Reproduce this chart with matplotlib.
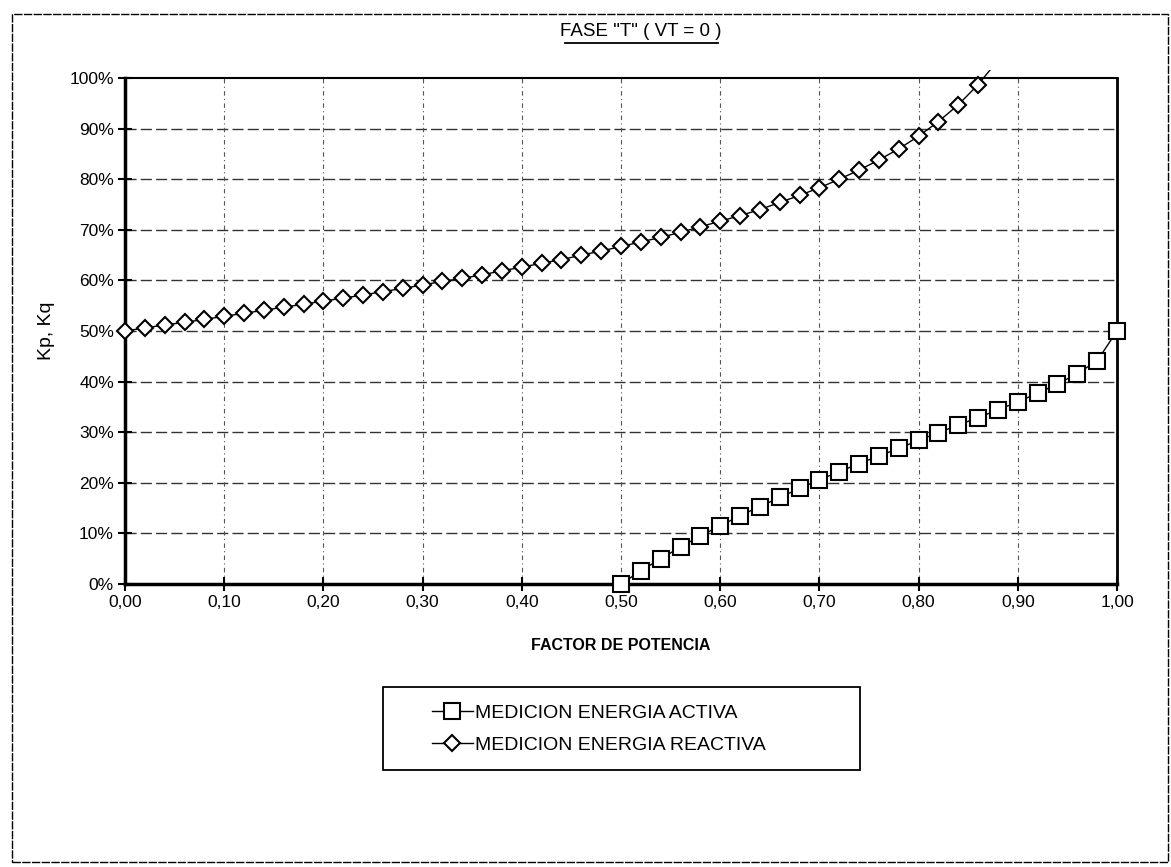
import matplotlib
matplotlib.use("Agg")
import matplotlib.pyplot as plt
from matplotlib.patches import Rectangle

plt.rcParams['font.family'] = ['Liberation Sans', 'DejaVu Sans']

# factor de potencia
fp_reactiva = [0.00, 0.02, 0.04, 0.06, 0.08, 0.10, 0.12, 0.14, 0.16, 0.18,
               0.20, 0.22, 0.24, 0.26, 0.28, 0.30, 0.32, 0.34, 0.36, 0.38,
               0.40, 0.42, 0.44, 0.46, 0.48, 0.50, 0.52, 0.54, 0.56, 0.58,
               0.60, 0.62, 0.64, 0.66, 0.68, 0.70, 0.72, 0.74, 0.76, 0.78,
               0.80, 0.82, 0.84, 0.86, 0.88]
kq = [0.500, 0.506, 0.512, 0.517, 0.523, 0.529, 0.535, 0.541, 0.547, 0.553,
      0.559, 0.565, 0.571, 0.578, 0.584, 0.591, 0.598, 0.604, 0.611, 0.619,
      0.626, 0.634, 0.641, 0.650, 0.658, 0.667, 0.676, 0.685, 0.695, 0.706,
      0.717, 0.728, 0.740, 0.754, 0.768, 0.783, 0.800, 0.818, 0.838, 0.860,
      0.885, 0.914, 0.947, 0.987, 1.035]

fp_activa = [0.50, 0.52, 0.54, 0.56, 0.58, 0.60, 0.62, 0.64, 0.66, 0.68,
             0.70, 0.72, 0.74, 0.76, 0.78, 0.80, 0.82, 0.84, 0.86, 0.88,
             0.90, 0.92, 0.94, 0.96, 0.98, 1.00]
kp = [0.000, 0.026, 0.050, 0.073, 0.095, 0.115, 0.135, 0.153, 0.171, 0.189,
      0.206, 0.222, 0.238, 0.253, 0.268, 0.284, 0.299, 0.314, 0.329, 0.344,
      0.360, 0.377, 0.395, 0.416, 0.441, 0.500]

xticks = [0.0, 0.1, 0.2, 0.3, 0.4, 0.5, 0.6, 0.7, 0.8, 0.9, 1.0]
xticklabels = ['0,00', '0,10', '0,20', '0,30', '0,40', '0,50',
               '0,60', '0,70', '0,80', '0,90', '1,00']
yticks = [0.0, 0.1, 0.2, 0.3, 0.4, 0.5, 0.6, 0.7, 0.8, 0.9, 1.0]
yticklabels = ['0%', '10%', '20%', '30%', '40%', '50%',
               '60%', '70%', '80%', '90%', '100%']

W, H = 1171, 867
fig = plt.figure(figsize=(W / 100, H / 100), dpi=100)
ax = fig.add_axes([125 / W, 1 - 584 / H, (1117 - 125) / W, (584 - 78) / H])

ax.plot(fp_activa, kp, color='black', lw=1.0, marker='s', ms=11.5,
        mfc='white', mec='black', mew=1.5, label='MEDICION ENERGIA ACTIVA',
        clip_on=False, zorder=5)
ax.plot(fp_reactiva[:-1], kq[:-1], color='black', lw=1.0, marker='D', ms=8,
        mfc='white', mec='black', mew=1.5, label='MEDICION ENERGIA REACTIVA',
        clip_on=False, zorder=5)
# tramo final: sale un poco por encima del borde superior
tramo, = ax.plot(fp_reactiva[-2:], kq[-2:], color='black', lw=1.0, zorder=4)
clip = Rectangle((0, 0), 1, 1.016, transform=ax.transAxes, visible=False)
ax.add_patch(clip)
tramo.set_clip_path(clip)

ax.set_xlim(0, 1)
ax.set_ylim(0, 1)
ax.set_xticks(xticks)
ax.set_xticklabels(xticklabels)
ax.set_yticks(yticks)
ax.set_yticklabels(yticklabels)
ax.tick_params(axis='both', direction='inout', length=10, width=1.5,
               labelsize=12.5, color='black')
ax.tick_params(axis='x', pad=3)
ax.tick_params(axis='y', pad=3)

for y in yticks[1:-1]:
    ax.axhline(y, color='#333333', lw=1.0, ls=(0, (8, 3)), zorder=1)
for x in xticks[1:-1]:
    ax.axvline(x, color='#555555', lw=0.8, ls=(0, (4, 3, 1, 3)), zorder=1)

ax.spines['left'].set_linewidth(2.5)
ax.spines['bottom'].set_linewidth(2.5)
ax.spines['top'].set_linewidth(1.5)
ax.spines['right'].set_linewidth(2.0)

ax.set_xlabel('FACTOR DE POTENCIA', fontsize=11.5, fontweight='bold', labelpad=20)
ax.set_ylabel('Kp, Kq', fontsize=14, labelpad=10)

fig.text(641 / W, 1 - 31 / H, 'FASE "T" ( VT = 0 )', fontsize=13.5,
         ha='center', va='center')
fig.add_artist(plt.Line2D([565 / W, 718 / W], [1 - 43 / H, 1 - 43 / H],
                          color='black', lw=1.3))

leg = fig.legend(loc='center left', bbox_to_anchor=(422 / W, 1 - 729 / H),
                 frameon=False, fontsize=14, handlelength=2.1,
                 handletextpad=0.15, labelspacing=0.75, borderpad=0)
fig.patches.append(Rectangle((383 / W, 1 - 770 / H), (860 - 383) / W,
                             (770 - 687) / H, transform=fig.transFigure,
                             fill=False, edgecolor='black', lw=1.3))

fig.patches.append(Rectangle((12 / W, 1 - 862 / H), (1168 - 12) / W,
                             (862 - 14) / H, transform=fig.transFigure,
                             fill=False, edgecolor='black', lw=1.0,
                             ls=(0, (6, 1))))

fig.savefig('out.png', dpi=100)
